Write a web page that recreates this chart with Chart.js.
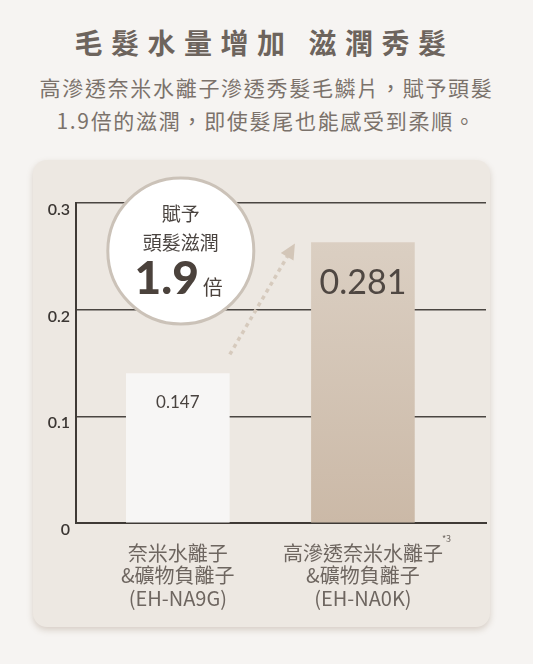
<!DOCTYPE html>
<html>
<head>
<meta charset="utf-8">
<script src="https://cdn.jsdelivr.net/npm/chart.js@4"></script>
<style>
  html, body { margin: 0; padding: 0; }
  body { width: 533px; height: 664px; background: #f6f4f2; position: relative; overflow: hidden;
         font-family: "Noto Sans CJK TC", "Noto Sans", sans-serif; }
  h1 { position: absolute; top: 20px; left: 0; width: 533px; margin: 0; text-align: center;
       font-size: 28px; font-weight: 700; letter-spacing: 8.5px; color: #6d645d; line-height: 44px; text-indent: -4px; }
  .sub { position: absolute; top: 71px; left: 0; width: 533px; margin: 0; text-align: center;
         font-size: 21px; letter-spacing: 1.7px; color: #7b726b; line-height: 33px; }
  .card { position: absolute; left: 33px; top: 160px; width: 457px; height: 467px; border-radius: 14px;
          background: #ede8e2; box-shadow: 0 3px 6px rgba(150, 128, 105, 0.32); }
  #wrap { position: absolute; left: 0; top: 160px; width: 533px; height: 480px; }
</style>
</head>
<body>
<h1>毛髮水量增加 滋潤秀髮</h1>
<p class="sub">高滲透奈米水離子滲透秀髮毛鱗片，賦予頭髮<br>1.9倍的滋潤，即使髮尾也能感受到柔順。</p>
<div class="card"></div>
<div id="wrap"><canvas id="chart"></canvas></div>
<script>
const categories = [
  ['奈米水離子', '&礦物負離子', '(EH-NA9G)'],
  ['高滲透奈米水離子', '&礦物負離子', '(EH-NA0K)']
];
const positions = [1, 2];
const barValues = [0.14, 0.263];
const valueLabels = ['0.147', '0.281'];
const yTicks = [0, 0.1, 0.2, 0.3];
const badgeLines = ['賦予', '頭髮滋潤'];
const badgeNumber = '1.9';
const badgeUnit = '倍';
const footnote = '*3';

const cjk = '"Noto Sans CJK TC", "Noto Sans", sans-serif';

const decor = {
  id: 'decor',
  afterDatasetsDraw(chart) {
    const ctx = chart.ctx;
    const bars = chart.getDatasetMeta(0).data;
    const y = chart.scales.y;
    const x = chart.scales.x;
    ctx.save();

    // values inside bars
    ctx.textAlign = 'center';
    ctx.textBaseline = 'middle';
    ctx.fillStyle = '#4a4440';
    ctx.font = '17px Lato, sans-serif';
    ctx.fillText(valueLabels[0], bars[0].x, bars[0].y + 29);
    ctx.font = '34px Lato, sans-serif';
    ctx.fillStyle = '#4f4742';
    ctx.fillText(valueLabels[1], bars[1].x, bars[1].y + 41);

    // dotted arrow
    const x0 = bars[0].x + 52, y0 = y.getPixelForValue(0.158);
    const x1 = bars[1].x - 68, y1 = y.getPixelForValue(0.262);
    const ang = Math.atan2(y1 - y0, x1 - x0);
    ctx.strokeStyle = '#d6cabd';
    ctx.lineWidth = 3.5;
    ctx.setLineDash([4, 4]);
    ctx.beginPath();
    ctx.moveTo(x0, y0);
    ctx.lineTo(x1 - Math.cos(ang) * 12, y1 - Math.sin(ang) * 12);
    ctx.stroke();
    ctx.setLineDash([]);
    ctx.fillStyle = '#d3c6b8';
    ctx.beginPath();
    ctx.moveTo(x1, y1);
    ctx.lineTo(x1 - Math.cos(ang - 0.45) * 17, y1 - Math.sin(ang - 0.45) * 17);
    ctx.lineTo(x1 - Math.cos(ang + 0.45) * 17, y1 - Math.sin(ang + 0.45) * 17);
    ctx.closePath();
    ctx.fill();

    // badge circle
    const cx = bars[0].x + 3, cy = y.getPixelForValue(0.255), r = 73;
    ctx.beginPath();
    ctx.arc(cx, cy, r, 0, Math.PI * 2);
    ctx.fillStyle = '#ffffff';
    ctx.fill();
    ctx.lineWidth = 3;
    ctx.strokeStyle = '#cbc2b8';
    ctx.stroke();
    ctx.fillStyle = '#4a4440';
    ctx.font = '19px ' + cjk;
    ctx.fillText(badgeLines[0], cx, cy - 37);
    ctx.fillText(badgeLines[1], cx, cy - 8);
    ctx.font = '900 46px Lato, sans-serif';
    ctx.textAlign = 'right';
    ctx.fillStyle = '#4b423c';
    ctx.fillText(badgeNumber, cx + 18, cy + 28);
    ctx.textAlign = 'left';
    ctx.font = '20px ' + cjk;
    ctx.fillText(badgeUnit, cx + 22, cy + 36);

    // footnote mark on second label
    ctx.font = '20px ' + cjk;
    const w = ctx.measureText(categories[1][0]).width;
    ctx.font = '9px ' + cjk;
    ctx.fillStyle = '#6e6660';
    ctx.fillText(footnote, x.getPixelForValue(positions[1]) + w / 2 - 1, y.bottom + 16);
    ctx.restore();
  }
};

new Chart(document.getElementById('chart'), {
  type: 'bar',
  data: {
    datasets: [{
      data: positions.map((p, i) => ({ x: p, y: barValues[i] })),
      backgroundColor(c) {
        if (c.dataIndex === 0) return '#f7f6f5';
        const area = c.chart.chartArea;
        if (!area) return '#d3c4b4';
        const g = c.chart.ctx.createLinearGradient(0, area.top, 0, area.bottom);
        g.addColorStop(0, '#ddd2c6');
        g.addColorStop(1, '#cbb9a7');
        return g;
      },
      borderWidth: 0,
      barThickness: 103
    }]
  },
  options: {
    responsive: true,
    maintainAspectRatio: false,
    animation: false,
    events: [],
    layout: { padding: { left: 0, right: 47, top: 43, bottom: 0 } },
    plugins: { legend: { display: false }, tooltip: { enabled: false } },
    scales: {
      x: {
        type: 'linear',
        bounds: 'data',
        offset: false,
        min: 0.45,
        max: 2.665,
        afterBuildTicks(s) { s.ticks = positions.map(v => ({ value: v })); },
        afterFit(s) { s.height = 117; },
        grid: { display: false },
        border: { display: true, color: '#3f3a36', width: 2 },
        ticks: {
          autoSkip: false,
          maxRotation: 0,
          padding: 11,
          color: '#6e6660',
          font: { family: cjk, size: 20, lineHeight: 1.12 },
          callback: (v, i) => categories[i]
        }
      },
      y: {
        min: 0,
        max: 0.3,
        afterBuildTicks(s) { s.ticks = yTicks.map(v => ({ value: v })); },
        afterFit(s) { s.width = 76; },
        grid: { color: '#4a4541', lineWidth: 1.5, drawTicks: false },
        border: { display: true, color: '#3f3a36', width: 2 },
        ticks: {
          padding: 6,
          labelOffset: 7,
          color: '#3b3633',
          font: { family: 'Lato, sans-serif', size: 16, weight: '600' },
          callback: v => String(v)
        }
      }
    }
  },
  plugins: [decor]
});
</script>
</body>
</html>
